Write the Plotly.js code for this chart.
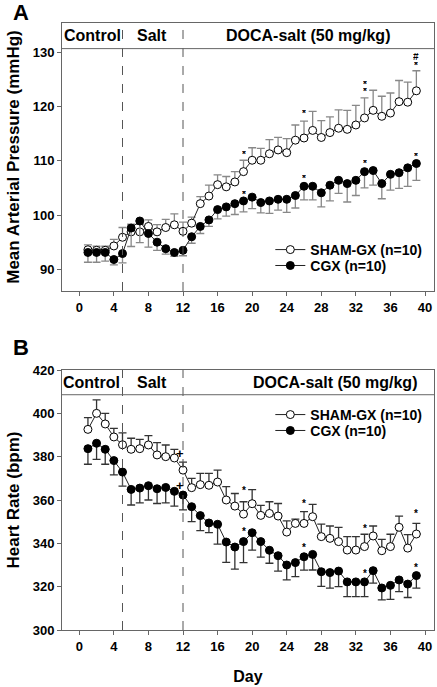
<!DOCTYPE html>
<html><head><meta charset="utf-8">
<script src="https://cdn.plot.ly/plotly-3.0.1.min.js"></script>
<style>html,body{margin:0;padding:0;background:#fff}#chart{width:437px;height:687px}</style>
</head><body><div id="chart"></div>
<script>
// ---- Data ----
const days = [1,2,3,4,5,6,7,8,9,10,11,12,13,14,15,16,17,18,19,20,21,22,23,24,25,26,27,28,29,30,31,32,33,34,35,36,37,38,39];

const mapSham = [93.6,93.5,93.5,94.3,95.9,96.9,96.9,97.9,96.9,97.7,98.2,97.0,98.5,102.1,103.5,105.6,105.2,106.1,108.0,110.1,
                 110.1,111.3,112.0,111.5,113.8,114.2,115.6,114.3,115.2,116.0,115.8,116.6,117.9,119.3,118.2,118.8,120.9,120.8,122.9];
const mapShamErr = [0.9,0.75,0.75,1.2,1.8,1.4,1.4,1.2,1.35,1.5,2.0,1.7,1.1,1.3,2.0,1.8,1.9,1.9,2.1,2.3,
                    2.2,2.6,2.3,2.6,2.8,3.1,3.5,3.1,2.9,3.4,3.5,3.6,3.7,3.7,3.7,3.7,3.9,3.7,3.7];
const mapCgx = [93.1,93.1,93.1,91.8,92.9,97.6,98.9,96.6,95.0,93.8,93.1,93.5,96.0,97.9,99.1,101.0,101.5,102.1,102.6,103.3,
                102.3,102.6,102.9,102.9,103.6,105.3,105.3,104.1,105.5,106.4,105.8,106.4,108.0,108.2,105.8,107.5,107.8,108.7,109.5];
const mapCgxErr = [1.8,1.8,1.6,1.0,1.7,3.4,4.0,2.5,1.5,1.0,0.7,1.0,1.2,1.3,1.2,1.7,1.7,2.0,2.0,2.1,
                   1.9,2.3,2.0,2.4,2.3,2.5,2.5,2.6,2.9,2.4,3.4,2.8,3.0,2.7,2.8,2.9,2.9,3.4,3.1];

const hrSham = [392.6,400.0,395.1,389.1,385.5,383.4,383.7,385.4,380.8,380.0,379.4,373.8,365.7,367.1,366.8,368.3,360.0,357.2,353.5,358.3,
                352.9,353.8,352.6,345.2,349.2,349.2,352.3,343.1,342.3,340.8,336.9,336.9,338.5,343.4,336.6,338.5,347.4,337.8,344.3];
const hrShamErr = [5.4,6.2,4.9,4.0,5.5,5.1,4.3,4.3,5.7,5.4,4.0,3.7,4.3,5.2,5.5,5.5,6.2,5.8,5.7,6.5,
                   4.6,5.4,5.8,5.2,2.0,5.4,5.7,5.8,5.7,6.6,6.2,6.2,5.7,4.6,5.2,5.7,5.2,6.2,4.9];
const hrCgx = [383.7,386.2,383.4,378.2,372.9,364.9,365.5,366.6,365.2,365.8,364.0,362.3,356.9,352.8,349.4,348.8,340.6,338.3,340.8,344.9,
               340.8,336.8,334.3,330.0,331.1,333.8,334.9,326.9,326.5,327.2,322.2,322.2,322.2,327.4,319.4,320.6,323.1,321.2,325.1];
const hrCgxErr = [7.2,7.4,6.9,6.6,6.5,7.2,6.8,6.6,6.8,7.1,6.8,6.9,6.9,6.9,4.5,9.2,9.4,10.2,9.7,8.0,
                  7.2,6.0,7.1,6.9,6.5,6.2,7.2,6.8,7.2,7.2,6.8,6.8,6.8,5.8,5.5,6.5,5.4,6.2,5.8];

const xTicks = [0,4,8,12,16,20,24,28,32,36,40];
const mapTicks = [90,100,110,120,130];
const hrTicks = [300,320,340,360,380,400,420];

const phaseBounds = [5,12];
const phaseLabels = ['Control','Salt','DOCA-salt (50 mg/kg)'];
const phaseLabelDaysA = [1.55,8.4,26.5];
const phaseLabelDaysB = [1.45,8.4,29.6];
const seriesNames = ['SHAM-GX (n=10)','CGX (n=10)'];

// significance marks
const mapMarkDays = [19,26,33,33,39,39,19,26,33,39];
const mapMarkVals = [111.5,119.0,123.1,124.5,127.9,129.3,104.2,107.1,109.8,111.2];
const mapMarkText = ['*','*','*','*','*','#','*','*','*','*'];
const hrMarkDays = [19,26,33,39,19,26,33,39,11.6,11.6];
const hrMarkVals = [365.2,359.2,348.0,354.6,346.5,339.2,327.2,330.0,381.5,366.9];
const hrMarkText = ['*','*','*','*','*','*','*','*','+','+'];

// ---- Build ----
const FONT = 'Liberation Sans, Arial, sans-serif';
const zeros = days.map(() => 0);
const openMarker = {symbol:'circle', size:8, color:'white', line:{color:'black', width:1}};
const fillMarker = {symbol:'circle', size:8, color:'black', line:{color:'black', width:1}};

function tr(y, errUp, errDown, marker, name, xa, ya, leg, ecol) {
  return {
    x: days, y: y, xaxis: xa, yaxis: ya, type: 'scatter', mode: 'lines+markers',
    name: name, legend: leg, marker: marker, line: {color:'#222', width:1},
    error_y: {type:'data', symmetric:false, array: errUp, arrayminus: errDown, color: ecol, thickness:1.3, width:4}
  };
}

const data = [
  tr(mapSham, mapShamErr, zeros, openMarker, seriesNames[0], 'x', 'y', 'legend', '#888'),
  tr(mapCgx, zeros, mapCgxErr, fillMarker, seriesNames[1], 'x', 'y', 'legend2', '#888'),
  tr(hrSham, hrShamErr, zeros, openMarker, seriesNames[0], 'x2', 'y2', 'legend3', '#333'),
  tr(hrCgx, zeros, hrCgxErr, fillMarker, seriesNames[1], 'x2', 'y2', 'legend4', '#333')
];

const tickFont = {family: FONT, size: 13, color: '#000', weight: 'bold'};
function xax(anchor, title) {
  return {anchor: anchor, domain:[0,1], range:[-2,41.04], tickvals: xTicks, ticks:'outside', ticklen:4,
    tickcolor:'#666', showline:true, linecolor:'#666', linewidth:1, mirror:true, showgrid:false, zeroline:false,
    tickfont: tickFont, title: title};
}
function yax(anchor, domain, range, ticks, title) {
  return {anchor: anchor, domain: domain, range: range, tickvals: ticks, ticks:'outside', ticklen:4,
    tickcolor:'#666', showline:true, linecolor:'#666', linewidth:1, mirror:true, showgrid:false, zeroline:false,
    tickfont: tickFont, title: title};
}

const shapes = [];
[['x','y'],['x2','y2']].forEach(([xa, ya]) => {
  phaseBounds.forEach(d => shapes.push({type:'line', xref:xa, yref: ya + ' domain', x0:d, x1:d, y0:0, y1:1,
    line:{color:'#555', width:1, dash:'dash'}}));
});
shapes.push({type:'line', xref:'x domain', yref:'y', x0:0, x1:1, y0:130.68, y1:130.68, line:{color:'#666', width:1}});
shapes.push({type:'line', xref:'x2 domain', yref:'y2', x0:0, x1:1, y0:408.6, y1:408.6, line:{color:'#666', width:1}});

const annotations = [];
const stripFont = {family: FONT, size: 16, color:'#000', weight:'bold'};
phaseLabels.forEach((t, i) => {
  annotations.push({xref:'x', yref:'y', x: phaseLabelDaysA[i], y: 133.1, text: t, showarrow:false, font: stripFont});
  annotations.push({xref:'x2', yref:'y2', x: phaseLabelDaysB[i], y: 414.3, text: t, showarrow:false, font: stripFont});
});
mapMarkDays.forEach((d, i) => annotations.push({xref:'x', yref:'y', x:d, y:mapMarkVals[i], text: mapMarkText[i],
  showarrow:false, yshift: mapMarkText[i]==='*' ? -2 : 0, height: 7, font:{family:FONT, size:10, color:'#000', weight:'bold'}}));
hrMarkDays.forEach((d, i) => annotations.push({xref:'x2', yref:'y2', x:d, y:hrMarkVals[i], text: hrMarkText[i],
  showarrow:false, yshift: hrMarkText[i]==='*' ? -2 : 0, font:{family:FONT, size: hrMarkText[i]==='+' ? 13 : 10, color:'#000', weight:'bold'}}));
annotations.push({xref:'paper', yref:'paper', x:0, xshift:-50, y:1.0231, yshift:10, borderpad:0, text:'A', showarrow:false,
  font:{family:FONT, size:22, color:'#000', weight:'bold'}});
annotations.push({xref:'paper', yref:'paper', x:0, xshift:-50, y:0.4597, yshift:3, borderpad:0, text:'B', showarrow:false,
  font:{family:FONT, size:22, color:'#000', weight:'bold'}});

const titleFont = {family: FONT, size: 17, color:'#000', weight:'bold'};
const legFont = {family: FONT, size: 14, color:'#000', weight:'bold'};
function leg(y) {
  return {x:0.56, xanchor:'left', y:y, yanchor:'top', bgcolor:'rgba(0,0,0,0)', font: legFont, itemwidth:30};
}

const layout = {
  width: 437, height: 687,
  margin: {l:62, r:3, t:23, b:57},
  paper_bgcolor:'white', plot_bgcolor:'white',
  font: {family: FONT},
  xaxis: xax('y', {text:''}),
  yaxis: yax('x', [0.5585,1], [86,135.4], mapTicks, {text:'Mean Arterial Pressure (mmHg)', font: titleFont, standoff: 8}),
  xaxis2: xax('y2', {text:'Day', font:{family:FONT, size:16, color:'#000', weight:'bold'}, standoff: 18}),
  yaxis2: yax('x2', [0,0.4283], [300,420], hrTicks, {text:'Heart Rate (bpm)', font: titleFont, standoff: 8}),
  showlegend: true,
  legend: leg(0.6524),
  legend2: leg(0.6262),
  legend3: leg(0.3806),
  legend4: leg(0.3544),
  shapes: shapes,
  annotations: annotations
};

Plotly.newPlot('chart', data, layout, {displayModeBar:false, staticPlot:true});
</script>
</body></html>
